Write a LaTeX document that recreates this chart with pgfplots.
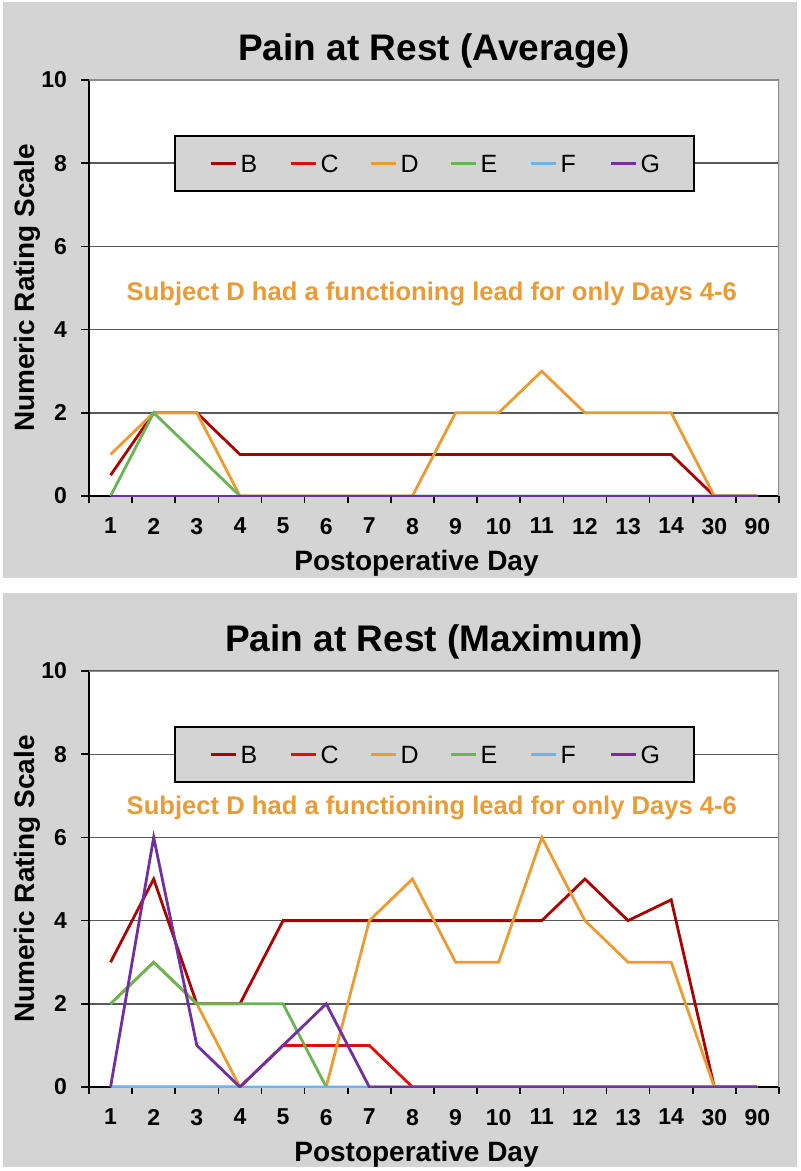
\documentclass[border=0pt]{standalone}
\usepackage{fontspec}
\setmainfont{Liberation Sans}
\usepackage{pgfplots}
\usepackage{pgfplotstable}
\pgfplotsset{compat=1.18}

\definecolor{panelgray}{RGB}{212,212,212}
\definecolor{colB}{RGB}{170,0,0}
\definecolor{colC}{RGB}{225,12,12}
\definecolor{colD}{RGB}{236,155,50}
\definecolor{colE}{RGB}{105,180,85}
\definecolor{colF}{RGB}{110,180,235}
\definecolor{colG}{RGB}{112,48,160}
\definecolor{annot}{RGB}{233,155,55}

% x index: 0..15 -> days 1..14, 30, 90
\pgfplotstableread{
x B C D E F G
0 0.5 0 1 0 0 0
1 2 0 2 2 0 0
2 2 0 2 1 0 0
3 1 0 0 0 0 0
4 1 0 0 0 0 0
5 1 0 0 0 0 0
6 1 0 0 0 0 0
7 1 0 0 0 0 0
8 1 0 2 0 0 0
9 1 0 2 0 0 0
10 1 0 3 0 0 0
11 1 0 2 0 0 0
12 1 0 2 0 0 0
13 1 0 2 0 0 0
14 0 0 0 0 0 0
15 0 0 0 0 0 0
}\avgdata

\pgfplotstableread{
x B C D E F G
0 3 0 2 2 0 0
1 5 0 3 3 0 6
2 2 0 2 2 0 1
3 2 0 0 2 0 0
4 4 1 0 2 0 1
5 4 1 0 0 0 2
6 4 1 4 0 0 0
7 4 0 5 0 0 0
8 4 0 3 0 0 0
9 4 0 3 0 0 0
10 4 0 6 0 0 0
11 5 0 4 0 0 0
12 4 0 3 0 0 0
13 4.5 0 3 0 0 0
14 0 0 0 0 0 0
15 0 0 0 0 0 0
}\maxdata

\pgfplotsset{
  painaxis/.style={
    scale only axis, width=345pt, height=208pt,
    xmin=-0.5, xmax=15.5, ymin=0, ymax=10,
    xtick={0,...,15},
    xticklabels={1,2,3,4,5,6,7,8,9,10,11,12,13,14,30,90},
    minor xtick={-0.5,0.5,...,15.5},
    ytick={0,2,4,6,8,10},
    tick align=outside,
    major tick length=4pt, minor tick length=3.5pt,
    major x tick style={draw=none},
    every tick/.style={black, line width=0.8pt},
    minor tick style={black, line width=0.8pt},
    axis x line*=bottom, axis y line*=left,
    axis line style={black, line width=0.9pt},
    ymajorgrids,
    major grid style={black!65, line width=0.7pt},
    axis background/.style={fill=white},
    /pgf/number format/assume math mode=true,
    ticklabel style={font=\bfseries\fontsize{11.5}{12}\selectfont},
    xticklabel style={yshift=-3.5pt},
    yticklabel style={xshift=-3.5pt},
    every axis title shift=0pt,
    title style={at={(0.5,1)}, anchor=base, yshift=9.75pt,
      font=\bfseries\fontsize{18.5}{20}\selectfont},
    xlabel style={at={(axis description cs:0.5,0)}, anchor=base,
      yshift=-37pt, xshift=-8.75pt, font=\bfseries\fontsize{14}{16}\selectfont},
    ylabel style={at={(axis description cs:-0.0783,0.5)}, rotate=0, anchor=base,
      font=\bfseries\fontsize{14}{16}\selectfont},
    xlabel={Postoperative Day},
    ylabel={Numeric Rating Scale},
    legend columns=6,
    legend image code/.code={\draw[#1, line width=1.5pt] (0pt,0pt) -- (12.5pt,0pt);},
    legend style={at={(axis cs:7.5,8)}, anchor=center, draw=black, line width=1pt,
      fill=panelgray, inner xsep=17.5pt, inner ysep=9.2pt,
      column sep=0pt, row sep=0pt,
      nodes={inner sep=0pt, text height=9pt, text depth=0pt},
      font=\fontsize{12.5}{14}\selectfont},
    every axis plot/.append style={line width=1.4pt},
  }
}

\newcommand{\leg}{\legend{\makebox[26pt][l]{\hspace{1.5pt}B},\makebox[26pt][l]{\hspace{1.5pt}C},\makebox[26pt][l]{\hspace{1.5pt}D},\makebox[26pt][l]{\hspace{1.5pt}E},\makebox[26pt][l]{\hspace{1.5pt}F},\makebox[10.5pt][l]{\hspace{1.5pt}G}}}

\begin{document}
\begin{tikzpicture}
\path[use as bounding box] (0,0) rectangle (400pt,-585.5pt);
\fill[white] (0,0) rectangle (400pt,-585.5pt);
\fill[panelgray] (1.5pt,-1pt) rectangle (398.5pt,-289pt);
\fill[panelgray] (1.5pt,-296.5pt) rectangle (398.5pt,-583.5pt);

\begin{axis}[painaxis, at={(44.5pt,-248pt)}, anchor=south west,
  title={Pain at Rest (Average)}]
\addplot[colB] table[x=x,y=B]{\avgdata};
\addplot[colC] table[x=x,y=C]{\avgdata};
\addplot[colD] table[x=x,y=D]{\avgdata};
\addplot[colE] table[x=x,y=E]{\avgdata};
\addplot[colF] table[x=x,y=F]{\avgdata};
\addplot[colG] table[x=x,y=G]{\avgdata};
\leg
\draw[black!45, line width=0.8pt] (rel axis cs:0,1) -- (rel axis cs:1,1) -- (rel axis cs:1,0);
\node[anchor=base, text=annot, font=\bfseries\fontsize{12.8}{14}\selectfont]
  at (axis cs:7.45,4.71) {Subject D had a functioning lead for only Days 4-6};
\end{axis}

\begin{axis}[painaxis, at={(44.5pt,-543.5pt)}, anchor=south west,
  title={Pain at Rest (Maximum)}]
\addplot[colB] table[x=x,y=B]{\maxdata};
\addplot[colC] table[x=x,y=C]{\maxdata};
\addplot[colD] table[x=x,y=D]{\maxdata};
\addplot[colE] table[x=x,y=E]{\maxdata};
\addplot[colF] table[x=x,y=F]{\maxdata};
\addplot[colG] table[x=x,y=G]{\maxdata};
\leg
\draw[black!45, line width=0.8pt] (rel axis cs:0,1) -- (rel axis cs:1,1) -- (rel axis cs:1,0);
\node[anchor=base, text=annot, font=\bfseries\fontsize{12.8}{14}\selectfont]
  at (axis cs:7.45,6.56) {Subject D had a functioning lead for only Days 4-6};
\end{axis}
\end{tikzpicture}
\end{document}
